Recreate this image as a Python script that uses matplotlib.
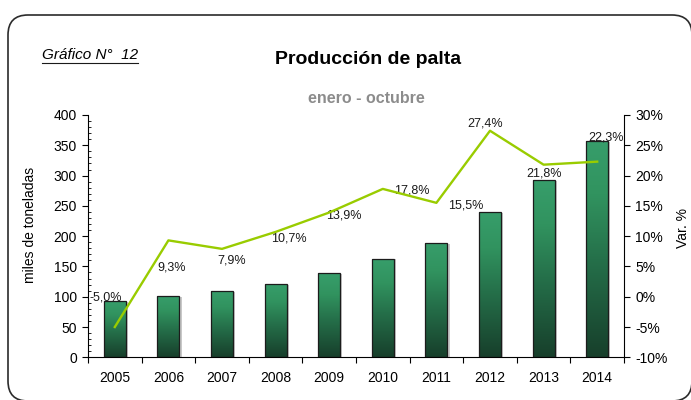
import numpy as np
import matplotlib
matplotlib.use('Agg')
import matplotlib.pyplot as plt
from matplotlib.colors import LinearSegmentedColormap
from matplotlib.patches import FancyBboxPatch
from matplotlib.ticker import MultipleLocator, FuncFormatter, FixedLocator

plt.rcParams['font.family'] = ['Liberation Sans', 'DejaVu Sans']

# data
years = ['2005', '2006', '2007', '2008', '2009', '2010', '2011', '2012', '2013', '2014']
produccion = [93, 101.5, 109.5, 121, 138.5, 163, 188.5, 239.5, 292, 357]   # miles de toneladas
var_pct = [-5.0, 9.3, 7.9, 10.7, 13.9, 17.8, 15.5, 27.4, 21.8, 22.3]      # %
var_labels = ['-5,0%', '9,3%', '7,9%', '10,7%', '13,9%', '17,8%', '15,5%', '27,4%', '21,8%', '22,3%']

# label offsets (px) from each line point, as in the original
label_offsets = [(-9, 30), (3, -27), (10, -12), (13, -7), (15, -3),
                 (29, -2), (29, -2.5), (-5, 7), (0, -9), (9, 24.5)]

W, H = 691, 400
fig = plt.figure(figsize=(W / 100, H / 100), dpi=100)

# background frame with rounded corners
bg = fig.add_axes([0, 0, 1, 1], zorder=-5)
bg.set_xlim(0, W)
bg.set_ylim(H, 0)
bg.axis('off')
bg.add_patch(FancyBboxPatch((8, 15), 684, 386, boxstyle='round,pad=0,rounding_size=20',
                            facecolor='white', edgecolor='#2b2b2b', linewidth=1.2))

ax = fig.add_axes([88 / W, 1 - 357.3 / H, (624 - 88) / W, (357.3 - 115) / H])
x = np.arange(len(years))

cmap = LinearSegmentedColormap.from_list('barg', [(0, '#173f2b'), (0.45, '#25704a'),
                                                  (0.75, '#31935f'), (1, '#379e6b')])
grad = np.linspace(0, 1, 256).reshape(-1, 1)
bars = ax.bar(x, produccion, width=0.41, facecolor='none', edgecolor='#1c1c1c',
              linewidth=0.9, zorder=3)
for b in bars:
    x0, y0, w, h = b.get_x(), b.get_y(), b.get_width(), b.get_height()
    # slight gray shadow on right side
    ax.fill_between([x0 + w, x0 + w + 0.04], 0, h - 1.5, color='#c8c8c8', zorder=1, lw=0)
    im = ax.imshow(grad, cmap=cmap, origin='lower', aspect='auto',
                   extent=[x0, x0 + w, y0, y0 + h], zorder=2)
    im.set_clip_path(b)

ax.set_xlim(-0.5, len(years) - 0.5)
ax.set_ylim(0, 400)
ax.yaxis.set_major_locator(MultipleLocator(50))
ax.yaxis.set_minor_locator(MultipleLocator(10))
ax.tick_params(axis='y', which='major', direction='out', length=4, width=0.8, pad=4, labelsize=10)
ax.tick_params(axis='y', which='minor', direction='in', length=2.5, width=0.6)
ax.xaxis.set_major_locator(FixedLocator(np.arange(-0.5, len(years), 1)))
ax.xaxis.set_major_formatter(FuncFormatter(lambda v, p: ''))
ax.xaxis.set_minor_locator(FixedLocator(x))
ax.set_xticklabels(years, minor=True)
ax.tick_params(axis='x', which='major', direction='out', length=4, width=0.8)
ax.tick_params(axis='x', which='minor', length=0, pad=10, labelsize=10)
for s in ['top', 'right']:
    ax.spines[s].set_visible(False)
for s in ['left', 'bottom']:
    ax.spines[s].set_linewidth(0.8)

ax2 = ax.twinx()
ax2.plot(x, var_pct, color='#99cc00', linewidth=1.7, zorder=5)
ax2.set_ylim(-10, 30)
ax2.yaxis.set_major_locator(MultipleLocator(5))
ax2.yaxis.set_major_formatter(FuncFormatter(lambda v, p: f'{v:.0f}%'))
ax2.tick_params(axis='y', direction='out', length=4, width=0.8, pad=4, labelsize=10)
for s in ['top', 'left', 'bottom']:
    ax2.spines[s].set_visible(False)
ax2.spines['right'].set_linewidth(0.8)

for xi, v, lab, (dx, dy) in zip(x, var_pct, var_labels, label_offsets):
    ax2.annotate(lab, (xi, v), xytext=(dx * 0.72, dy * 0.72), textcoords='offset points',
                 ha='center', va='center', fontsize=9, color='#1a1a1a')

fig.text(30 / W, 1 - 225 / H, 'miles de toneladas', rotation=90, ha='center', va='center', fontsize=10)
fig.text(683 / W, 1 - 228 / H, 'Var. %', rotation=90, ha='center', va='center', fontsize=10)

t_num = fig.text(41.7 / W, 1 - 55 / H, 'Gráfico N°  12', style='italic', ha='left', va='center', fontsize=11)
fig.text(368 / W, 1 - 59 / H, 'Producción de palta', fontweight='bold', ha='center', va='center', fontsize=14)
fig.text(366 / W, 1 - 98.5 / H, 'enero - octubre', fontweight='bold', ha='center', va='center',
         fontsize=11.5, color='#8c8c8c')

# underline for "Gráfico N° 12"
fig.canvas.draw()
bb = t_num.get_window_extent()
bg.plot([bb.x0, bb.x1], [H - bb.y0 + 0.5, H - bb.y0 + 0.5], color='#1a1a1a', linewidth=0.8)

fig.savefig('out.png', dpi=100)
